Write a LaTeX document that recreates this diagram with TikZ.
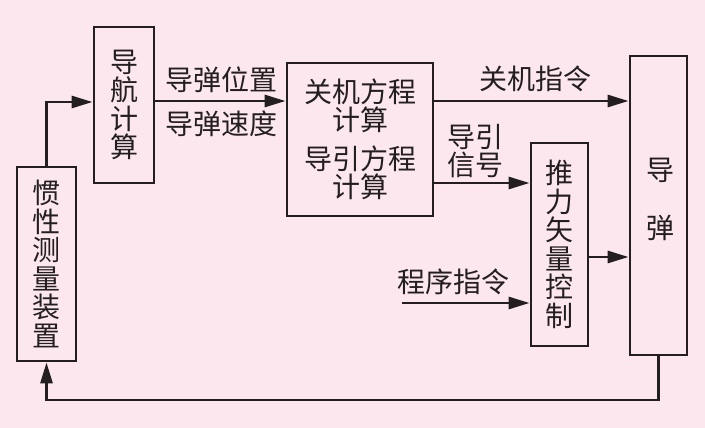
\documentclass[tikz,border=0pt]{standalone}
\usepackage{fontspec}
\newfontfamily\cjk{Noto Sans CJK SC}
\usetikzlibrary{arrows.meta}
\definecolor{bgpink}{HTML}{FCE7EE}
\definecolor{ink}{HTML}{231F20}
\begin{document}
\begin{tikzpicture}[x=1pt,y=-1pt,
  box/.style={draw=ink,line width=2.8pt,inner sep=0pt,align=center,
    font=\cjk\fontsize{28pt}{28.5pt}\selectfont,text=ink},
  lbl/.style={inner sep=0pt,align=center,
    font=\cjk\fontsize{28pt}{28.5pt}\selectfont,text=ink},
  arr/.style={draw=ink,line width=2.8pt,-{Triangle[length=21pt,width=12pt]}}]
\fill[bgpink] (0,0) rectangle (705,428);
\useasboundingbox (0,0) rectangle (705,428);
% boxes
\node[box,minimum width=59pt,minimum height=194pt] (ins) at (46.5,264) {惯\\性\\测\\量\\装\\置};
\node[box,minimum width=60pt,minimum height=156pt] (nav) at (124,105) {导\\航\\计\\算};
\node[box,minimum width=146pt,minimum height=153pt] (eq) at (360,139.5) {关机方程\\计算\\[10pt]导引方程\\计算};
\node[box,minimum width=57pt,minimum height=203pt] (thr) at (559.5,244.5) {推\\力\\矢\\量\\控\\制};
\node[box,minimum width=57pt,minimum height=299pt] (mis) at (658.5,205.5) {};
\node[lbl] (misA) at (660,170) {导};
\node[lbl] (misB) at (660,228) {弹};
% labels
\node[lbl] (lpos) at (221,80) {导弹位置};
\node[lbl] (lvel) at (221,124) {导弹速度};
\node[lbl] (lshut) at (535,79) {关机指令};
\node[lbl] (lguide) at (475,151) {导引\\信号};
\node[lbl] (lprog) at (453,282) {程序指令};
% helper coordinates
\coordinate (r0) at (0,102);
\coordinate (r1) at (0,101);
\coordinate (r2) at (0,183);
\coordinate (r3) at (0,257);
\coordinate (r4) at (0,303);
\coordinate (p0) at (402,303);
\coordinate (fb) at (0,400);
% connectors
\draw[arr] (ins.north) |- (nav.west |- r0);
\draw[arr] (nav.east |- r1) -- (eq.west |- r1);
\draw[arr] (eq.east |- r1) -- (mis.west |- r1);
\draw[arr] (eq.east |- r2) -- (thr.west |- r2);
\draw[arr] (thr.east |- r3) -- (mis.west |- r3);
\draw[arr] (p0) -- (thr.west |- r4);
\draw[arr] (mis.south) -- (mis.south |- fb) -- (ins.south |- fb) -- (ins.south);
\end{tikzpicture}
\end{document}
